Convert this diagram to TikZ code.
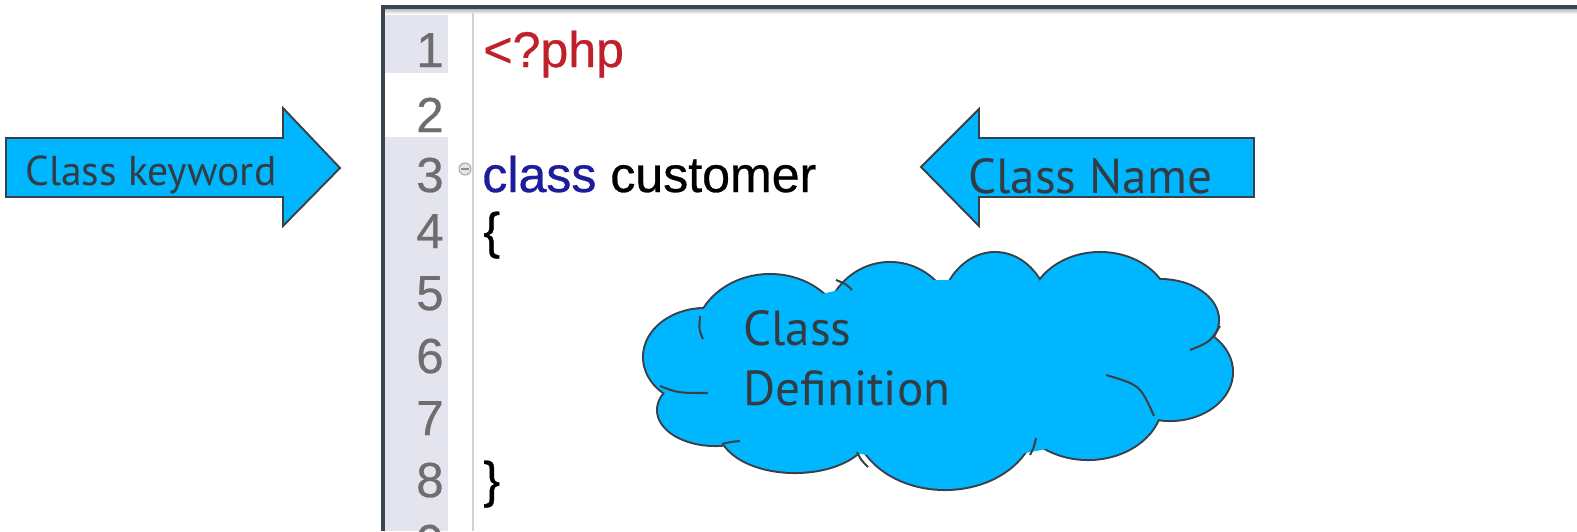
\documentclass[tikz,border=0pt]{standalone}
\usepackage{fontspec}
\newfontfamily\codefont[FakeBold=0.6]{Liberation Sans}
\newfontfamily\notefont{PT Sans}
\usetikzlibrary{positioning}
\definecolor{calloutblue}{HTML}{00B7FF}
\definecolor{outline}{HTML}{3A4048}
\definecolor{notetext}{HTML}{333C42}
\definecolor{gutter}{HTML}{E4E4EE}
\definecolor{numgray}{HTML}{6E6E6E}
\definecolor{phpred}{HTML}{C0202A}
\definecolor{keyblue}{HTML}{1C1C9C}
\definecolor{framegray}{HTML}{3C4650}

\begin{document}
\begin{tikzpicture}[x=0.02cm,y=-0.02cm,
    lineno/.style={anchor=base east,inner sep=0,text=numgray,font={\fontsize{28}{28}\selectfont\codefont}},
    code/.style={anchor=base west,inner sep=0,font={\fontsize{28.5}{28.5}\selectfont\codefont}},
    callout/.style={fill=calloutblue,draw=outline,line width=1.1pt,line join=miter},
    note/.style={inner sep=0,text=notetext,font={\fontsize{28}{34}\selectfont\notefont}},
    puffline/.style={draw=outline,line width=2.3pt},
    pufffill/.style={fill=calloutblue},
    puffcrease/.style={draw=outline,line width=1.15pt}]
\useasboundingbox (0,0) rectangle (1577,531);
\fill[white] (0,0) rectangle (1577,531);

% editor window
\begin{scope}
    \clip (383,7) rectangle (1577,531);
    \fill[gutter] (383,13) rectangle (448,73);
    \fill[gutter] (383,137) rectangle (448,531);
    \shade[top color=gutter!75!black,bottom color=white] (383,8) rectangle (1577,14);
    \draw[black!18,line width=0.8pt] (473,13) -- (473,531);
    \foreach \n/\y in {1/67,2/132,3/192,4/248,5/310,6/373,7/435,8/497,9/559}
        \node[lineno] (ln\n) at (444,\y) {\n};
\end{scope}
\draw[framegray,line width=2pt] (383,531) -- (383,7) -- (1577,7);

\node[code,text=phpred] (phpopen) at (483,67) {<?php};
\node[code] (classdecl) at (482,192) {\textcolor{keyblue}{class} customer};
\node[code] (lbrace) at (483,248) {\{};
\node[code] (rbrace) at (483,497) {\}};
\draw[fill=gutter,draw=black!35,line width=0.6pt] (465,169) circle[radius=6];
\draw[black!45,line width=0.6pt] (461,169) -- (469,169);

% arrows
\draw[callout] (6,138) -- (283,138) -- (283,108) -- (340,168) -- (283,226) -- (283,197) -- (6,197) -- cycle;
\node[note,anchor=base west,font={\fontsize{23.7}{28}\selectfont\notefont}] (kwlabel) at (25,185) {Class keyword};

\draw[callout] (1254,138) -- (979,138) -- (979,109) -- (921,167) -- (979,226) -- (979,197) -- (1254,197) -- cycle;
\node[note,anchor=base west] (namelabel) at (968,193) {Class Name};

% cloud
\foreach \cx/\cy/\rx/\ry in {705/357/61/48,715/410/57/35,795/430/75/42,945/420/90/69,1088/400/74/59,
        1170/372/62/48,1160/320/58/40,1100/310/70/57,995/320/55/67,890/330/65/67,770/340/75/65}
    \path[puffline] (\cx,\cy) ellipse[x radius=\rx,y radius=\ry];
\foreach \cx/\cy/\rx/\ry in {705/357/61/48,715/410/57/35,795/430/75/42,945/420/90/69,1088/400/74/59,
        1170/372/62/48,1160/320/58/40,1100/310/70/57,995/320/55/67,890/330/65/67,770/340/75/65,940/370/220/90}
    \path[pufffill] (\cx,\cy) ellipse[x radius=\rx,y radius=\ry];
\draw[puffcrease] (660,386) .. controls (678,393) .. (708,393);
\draw[puffcrease] (700,316) .. controls (699,330) .. (703,339);
\draw[puffcrease] (722,444) .. controls (730,442) .. (740,441);
\draw[puffcrease] (857,452) .. controls (861,460) .. (868,467);
\draw[puffcrease] (1036,438) .. controls (1034,447) .. (1030,455);
\draw[puffcrease] (1106,375) .. controls (1140,385) .. (1154,416);
\draw[puffcrease] (1190,350) .. controls (1210,342) .. (1220,326);
\draw[puffcrease] (852,290) .. controls (846,284) .. (836,280);
\node[note,align=left,anchor=north west] (deflabel) at (743,310) {Class\\Definition};
\end{tikzpicture}
\end{document}
